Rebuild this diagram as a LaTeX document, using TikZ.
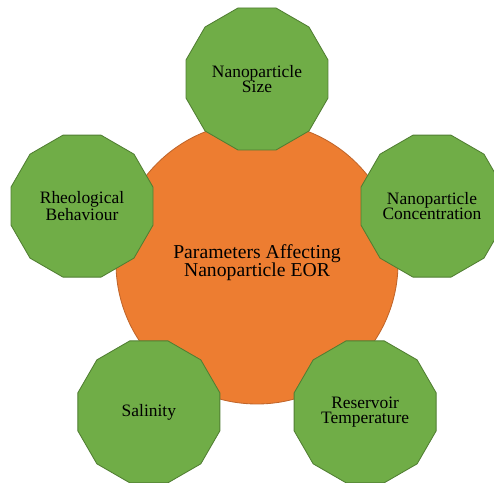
\documentclass[tikz,border=0pt]{standalone}
\usepackage{fontspec}
\setmainfont{Liberation Serif}
\usetikzlibrary{shapes.geometric,calc}
\definecolor{hubfill}{HTML}{ED7D31}
\definecolor{hubline}{HTML}{C0652A}
\definecolor{leaffill}{HTML}{70AD47}
\definecolor{leafline}{HTML}{507E32}

\begin{document}
\begin{tikzpicture}[
		hub/.style={circle, fill=hubfill, draw=hubline, line width=0.6pt,
			minimum size=7.05cm, align=center, font=\fontsize{14}{13}\selectfont},
		leaf/.style={regular polygon, regular polygon sides=12, fill=leaffill,
			draw=leafline, line width=0.6pt, minimum size=3.675cm, inner sep=0pt,
			align=center, font=\fontsize{12.4}{11}\selectfont}
	]
	\useasboundingbox (0,0) rectangle (12.35,12.075);
	\node[hub] (hub) at (6.425,5.5) {Parameters Affecting\\Nanoparticle EOR};
	% five parameters around the hub
	\foreach \a/\n/\txt in {
			90/size/{Nanoparticle\\Size},
			18/conc/{Nanoparticle\\Concentration},
			-54/temp/{Reservoir\\Temperature},
			234/salt/{Salinity},
			162/rheo/{Rheological\\Behaviour}}
		\node[leaf] (\n) at ($(hub)+(\a:4.6)$) {\txt};
\end{tikzpicture}
\end{document}
